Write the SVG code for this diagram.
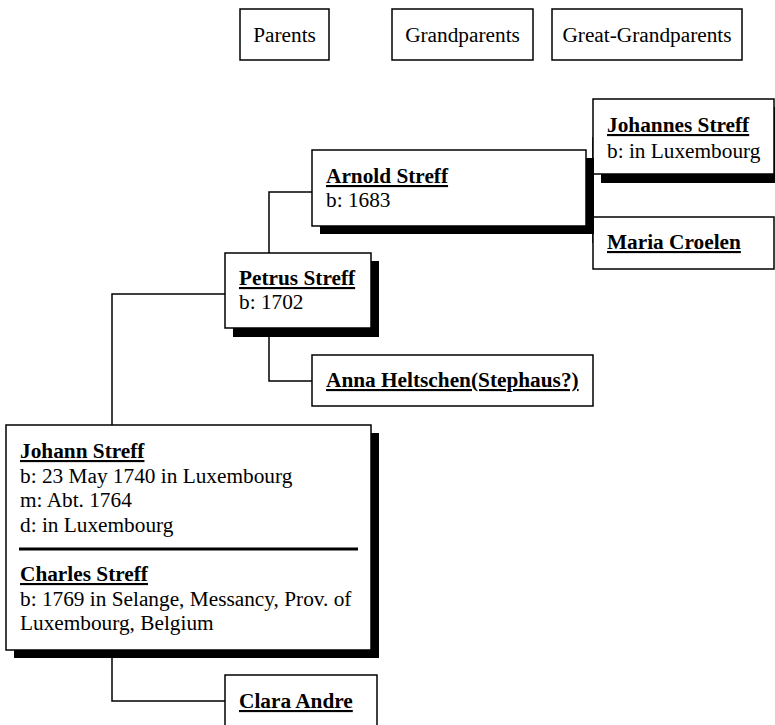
<svg xmlns="http://www.w3.org/2000/svg" width="775" height="725" viewBox="0 0 775 725">
<style>
  .box { fill: #fff; stroke: #000; stroke-width: 1.5; }
  .shadow { fill: #000; }
  .conn { fill: none; stroke: #000; stroke-width: 1.5; }
  .t { font-family: 'Liberation Serif', 'Times New Roman', Times, 'DejaVu Serif', serif; font-size: 21.3px; fill: #000; }
  .name { font-weight: bold; text-decoration: underline; }
  .hdr { text-anchor: middle; }
</style>
<rect width="775" height="725" fill="#fff"/>

<g id="connectors">
  <path class="conn" d="M112,425 V294 H225"/>
  <path class="conn" d="M112,650 V701 H225"/>
  <path class="conn" d="M269,253 V192 H312"/>
  <path class="conn" d="M269,328 V381 H312"/>
  <path class="conn" d="M586,188 H593 M593,137 V243"/>
</g>

<g id="header-parents">
  <rect class="box" x="240" y="9" width="89" height="51"/>
  <text class="t hdr" x="284.5" y="42" font-family="Liberation Serif, serif">Parents</text>
</g>
<g id="header-grandparents">
  <rect class="box" x="392" y="9" width="141" height="51"/>
  <text class="t hdr" x="462.5" y="42">Grandparents</text>
</g>
<g id="header-great-grandparents">
  <rect class="box" x="552" y="9" width="190" height="51"/>
  <text class="t hdr" x="647" y="42">Great-Grandparents</text>
</g>

<g id="johannes-streff">
  <rect class="shadow" x="601" y="107" width="181" height="76"/>
  <rect class="box" x="593" y="99" width="181" height="75"/>
  <text class="t name" x="607" y="132">Johannes Streff</text>
  <text class="t" x="607" y="158">b: in Luxembourg</text>
</g>

<g id="maria-croelen">
  <rect class="box" x="593" y="217" width="181" height="52"/>
  <text class="t name" x="607" y="249">Maria Croelen</text>
</g>

<g id="arnold-streff">
  <rect class="shadow" x="320" y="158" width="274" height="76"/>
  <rect class="box" x="312" y="150" width="274" height="76"/>
  <text class="t name" x="326" y="183">Arnold Streff</text>
  <text class="t" x="326" y="207">b: 1683</text>
</g>

<g id="petrus-streff">
  <rect class="shadow" x="233" y="261" width="146" height="76"/>
  <rect class="box" x="225" y="253" width="146" height="75"/>
  <text class="t name" x="239" y="285">Petrus Streff</text>
  <text class="t" x="239" y="309">b: 1702</text>
</g>

<g id="anna-heltschen">
  <rect class="box" x="312" y="355" width="281" height="51"/>
  <text class="t name" x="326" y="387">Anna Heltschen(Stephaus?)</text>
</g>

<g id="johann-streff">
  <rect class="shadow" x="14" y="433" width="365" height="225"/>
  <rect class="box" x="6" y="425" width="365" height="225"/>
  <text class="t name" x="20" y="458">Johann Streff</text>
  <text class="t" x="20" y="483">b: 23 May 1740 in Luxembourg</text>
  <text class="t" x="20" y="507">m: Abt. 1764</text>
  <text class="t" x="20" y="532">d: in Luxembourg</text>
  <line x1="19" y1="549" x2="358" y2="549" stroke="#000" stroke-width="3"/>
  <text class="t name" x="20" y="581">Charles Streff</text>
  <text class="t" x="20" y="606">b: 1769 in Selange, Messancy, Prov. of</text>
  <text class="t" x="20" y="630">Luxembourg, Belgium</text>
</g>

<g id="clara-andre">
  <rect class="box" x="225" y="675" width="152" height="70"/>
  <text class="t name" x="239" y="708">Clara Andre</text>
</g>
</svg>
